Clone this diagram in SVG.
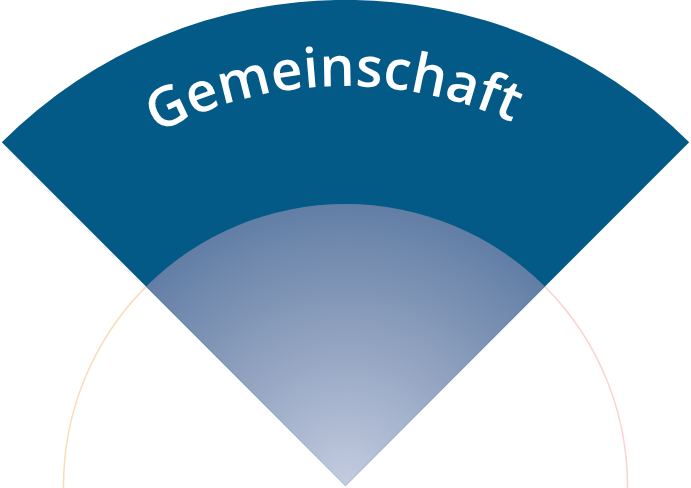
<svg xmlns="http://www.w3.org/2000/svg" xmlns:xlink="http://www.w3.org/1999/xlink" width="691" height="488" viewBox="0 0 691 488">
  <style>
    .band { fill: #035a87; }
    .label { font-family: "Open Sans", "Liberation Sans", sans-serif; font-weight: 600; font-size: 55px; fill: #ffffff; }
  </style>
  <defs>
    <radialGradient id="innerGrad" gradientUnits="userSpaceOnUse" cx="345.5" cy="486" r="282">
      <stop offset="0" stop-color="#c4cce0"/>
      <stop offset="0.55" stop-color="#8ea0be"/>
      <stop offset="1" stop-color="#627ea5"/>
    </radialGradient>
    <linearGradient id="ringGrad" gradientUnits="userSpaceOnUse" x1="63" y1="0" x2="628" y2="0">
      <stop offset="0" stop-color="#fbdcb8"/>
      <stop offset="1" stop-color="#fbd3d3"/>
    </linearGradient>
    <path id="textArc" d="M -0.9 286 A 400 400 0 0 1 691.9 286"/>
  </defs>
  <g id="ring">
    <circle cx="345.5" cy="486" r="282" fill="none" stroke="url(#ringGrad)" stroke-width="1.5"/>
  </g>
  <g id="outer-band">
    <path class="band" d="M 345.5 486 L 1.8 142.3 A 486 486 0 0 1 689.2 142.3 Z"/>
  </g>
  <g id="inner-sector">
    <path fill="url(#innerGrad)" d="M 345.5 486 L 146.1 286.6 A 282 282 0 0 1 544.9 286.6 Z"/>
  </g>
  <g id="title">
    <text class="label"><textPath xlink:href="#textArc" href="#textArc" startOffset="406.5" text-anchor="middle">Gemeinschaft</textPath></text>
  </g>
  <g id="connectors"></g>
</svg>
